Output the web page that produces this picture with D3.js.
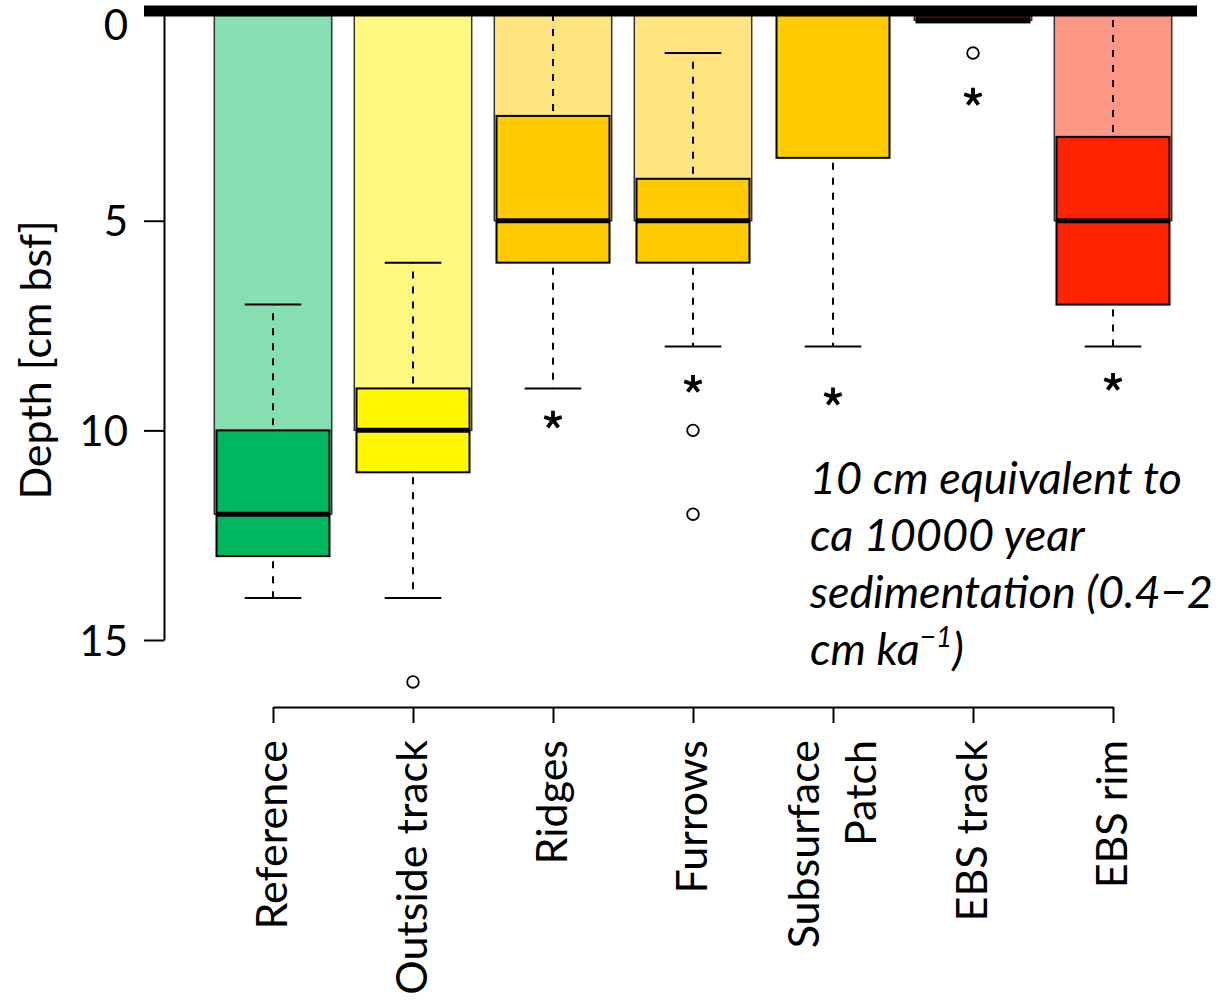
<!DOCTYPE html>
<html>
<head>
<meta charset="utf-8">
<script src="https://cdn.jsdelivr.net/npm/d3@7"></script>
<style>
    body { margin: 0; background: #fff; }
    text { font-family: Lato, 'Open Sans', sans-serif; fill: #000; }
</style>
</head>
<body>
<div id="chart"></div>
<script>

const categories = ['Reference', 'Outside track', 'Ridges', 'Furrows', 'Subsurface Patch', 'EBS track', 'EBS rim']
const labelLines = [['Reference'], ['Outside track'], ['Ridges'], ['Furrows'], ['Subsurface', 'Patch'], ['EBS track'], ['EBS rim']]

const whiskerTop = [7, 6, 0, 1, 0, 0, 0]
const q1 = [10, 9, 2.5, 4, 0, 0, 3]
const median = [12, 10, 5, 5, 0, 0.22, 5]
const q3 = [13, 11, 6, 6, 3.5, 0.27, 7]
const whiskerBottom = [14, 14, 9, 8, 8, 0.27, 8]

const lightColors = ['#86dfb1', '#fffa7f', '#ffe480', '#ffe480', '#ffe480', '#ff9785', '#ff9785']
const darkColors = ['#00b760', '#fff700', '#ffca00', '#ffca00', '#ffca00', '#5a1000', '#ff2400']

const outlierCats = ['Outside track', 'Furrows', 'Furrows', 'EBS track']
const outlierValues = [16, 10, 12, 1]

const extremeCats = ['Ridges', 'Furrows', 'Subsurface Patch', 'EBS track', 'EBS rim']
const extremeValues = [9.75, 8.9, 9.2, 2.05, 8.85]

const depthTicks = [0, 5, 10, 15]
const noteLines = ['10 cm equivalent to', 'ca 10000 year', 'sedimentation (0.4\u22122', 'cm ka']

const width = 1228
const height = 1000

const svg = d3.select('#chart')
    .append('svg')
    .attr('width', width)
    .attr('height', height)

const x = d3.scalePoint()
    .domain(categories)
    .range([273, 1113])

const y = d3.scaleLinear()
    .domain([0, 15])
    .range([11.1, 640])

const boxes = categories.map((c, i) => ({
    cat: c, lo: whiskerTop[i], q1: q1[i], med: median[i], q3: q3[i], hi: whiskerBottom[i],
    light: lightColors[i], dark: darkColors[i]
}))

const ctr = svg.append('g')

// bars up to the median
ctr.selectAll('rect.light')
    .data(boxes)
    .join('rect')
    .attr('class', 'light')
    .attr('x', (d) => x(d.cat) - 58.7)
    .attr('width', 117.4)
    .attr('y', y(0))
    .attr('height', (d) => y(d.med) - y(0))
    .attr('fill', (d) => d.light)
    .attr('stroke', '#333')
    .attr('stroke-width', 1.5)

const wh = ctr.append('g')
    .attr('stroke', '#000')
    .attr('stroke-width', 2)

boxes.forEach((d) => {
    if (d.lo < d.q1) {
        wh.append('line')
            .attr('x1', x(d.cat)).attr('x2', x(d.cat))
            .attr('y1', y(d.q1)).attr('y2', y(d.lo))
            .attr('stroke-dasharray', '7,8')
            .attr('stroke-dashoffset', 10)
        wh.append('line')
            .attr('x1', x(d.cat) - 28.3).attr('x2', x(d.cat) + 28.3)
            .attr('y1', y(d.lo)).attr('y2', y(d.lo))
    }
    if (d.hi > d.q3) {
        wh.append('line')
            .attr('x1', x(d.cat)).attr('x2', x(d.cat))
            .attr('y1', y(d.q3)).attr('y2', y(d.hi))
            .attr('stroke-dasharray', '7,8')
            .attr('stroke-dashoffset', 10)
        wh.append('line')
            .attr('x1', x(d.cat) - 28.3).attr('x2', x(d.cat) + 28.3)
            .attr('y1', y(d.hi)).attr('y2', y(d.hi))
    }
})

ctr.selectAll('rect.box')
    .data(boxes)
    .join('rect')
    .attr('class', 'box')
    .attr('x', (d) => x(d.cat) - 56.5)
    .attr('width', 113)
    .attr('y', (d) => y(d.q1))
    .attr('height', (d) => y(d.q3) - y(d.q1))
    .attr('fill', (d) => d.dark)
    .attr('stroke', '#000')
    .attr('stroke-width', 2)

ctr.selectAll('line.median')
    .data(boxes)
    .join('line')
    .attr('class', 'median')
    .attr('x1', (d) => x(d.cat) - 56.5)
    .attr('x2', (d) => x(d.cat) + 56.5)
    .attr('y1', (d) => y(d.med))
    .attr('y2', (d) => y(d.med))
    .attr('stroke', '#000')
    .attr('stroke-width', 5)

ctr.selectAll('circle.outlier')
    .data(outlierValues)
    .join('circle')
    .attr('class', 'outlier')
    .attr('cx', (d, i) => x(outlierCats[i]))
    .attr('cy', (d) => y(d))
    .attr('r', 5.8)
    .attr('fill', 'none')
    .attr('stroke', '#000')
    .attr('stroke-width', 1.8)

const starType = {
    draw(context, size) {
        const r = Math.sqrt(size) / 2
        for (let k = 0; k < 5; k++) {
            const a = -Math.PI / 2 + k * 2 * Math.PI / 5
            context.moveTo(0, 0)
            context.lineTo(r * Math.cos(a), r * Math.sin(a))
        }
    }
}

ctr.selectAll('path.extreme')
    .data(extremeValues)
    .join('path')
    .attr('class', 'extreme')
    .attr('d', d3.symbol(starType, 340))
    .attr('transform', (d, i) => `translate(${x(extremeCats[i])},${y(d)})`)
    .attr('fill', 'none')
    .attr('stroke', '#000')
    .attr('stroke-width', 3.8)

// surface line
svg.append('line')
    .attr('x1', 144)
    .attr('x2', 1197)
    .attr('y1', y(0))
    .attr('y2', y(0))
    .attr('stroke', '#000')
    .attr('stroke-width', 11)

const yAxis = svg.append('g')
    .attr('transform', 'translate(164,0)')
    .call(d3.axisLeft(y).tickValues(depthTicks).tickSize(20).tickSizeOuter(0).tickPadding(16))

yAxis.selectAll('path, line').attr('stroke', '#000').attr('stroke-width', 2)
yAxis.selectAll('text')
    .style('font-size', '42px')
    .style('font-family', 'Lato')
    .attr('dy', (d) => d == 0 ? '0.68em' : '0.36em')

svg.append('text')
    .attr('transform', 'translate(51,360) rotate(-90)')
    .attr('text-anchor', 'middle')
    .style('font-size', '43px')
    .text('Depth [cm bsf]')

const xAxis = svg.append('g')
    .attr('transform', 'translate(0,707)')
    .call(d3.axisBottom(x).tickSize(16).tickSizeOuter(0).tickFormat(''))

xAxis.selectAll('path, line').attr('stroke', '#000').attr('stroke-width', 2)

const labels = svg.append('g')
    .selectAll('g')
    .data(categories)
    .join('g')
    .attr('transform', (d) => `translate(${x(d)},740) rotate(-90)`)

labels.each(function(d, i) {
    const lines = labelLines[i]
    d3.select(this).selectAll('text')
        .data(lines)
        .join('text')
        .attr('x', 0)
        .attr('y', (t, k) => 14 + (k - (lines.length - 1) / 2) * 57)
        .attr('text-anchor', 'end')
        .style('font-size', '43px')
        .text((t) => t)
})

const note = svg.append('text')
    .attr('x', 810)
    .attr('y', 494)
    .style('font-size', '45px')
    .style('font-style', 'italic')

noteLines.forEach((t, i) => {
    note.append('tspan')
        .attr('x', 810)
        .attr('y', 494 + i * 57)
        .text(t)
})
note.append('tspan')
    .attr('dy', -18)
    .style('font-size', '28px')
    .text('\u22121')
note.append('tspan')
    .attr('dy', 18)
    .text(')')

</script>
</body>
</html>
